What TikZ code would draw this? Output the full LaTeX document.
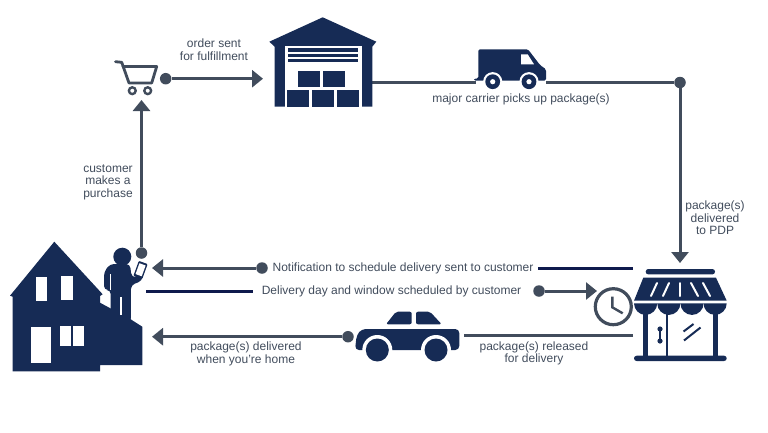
\documentclass[tikz,border=0pt]{standalone}
\usepackage{fontspec}
\setmainfont{Liberation Sans}
\usetikzlibrary{arrows.meta}
\definecolor{navy}{HTML}{162B55}
\definecolor{inkblue}{HTML}{0F1A4D}
\definecolor{slate}{HTML}{414C5C}
\tikzset{
  flow/.style={draw=slate, line width=3pt, -{Triangle[length=11pt,width=17pt]}},
  plainflow/.style={draw=slate, line width=3pt},
  darkline/.style={draw=inkblue, line width=3pt},
  dotnode/.style={circle, fill=slate, inner sep=0pt, minimum size=11.5pt},
  lbl/.style={text=slate, font=\fontsize{12pt}{12.6pt}\selectfont, align=center, inner sep=0pt},
  icon/.style={fill=navy, draw=none},
  hole/.style={fill=white, draw=none}
}

\begin{document}
\begin{tikzpicture}[x=1pt, y=-1pt, node distance=14pt]
        \useasboundingbox (0,0) rectangle (768,432);

        % anchors of the route
        \node (cartdot) [dotnode] at (165.7,78.7) {};
        \coordinate (whousein) at (263,78.7);
        \coordinate (whouseout) at (372,82.5);
        \coordinate (vanin) at (476,82.5);
        \coordinate (vanout) at (546,82.5);
        \node (pdpdot) [dotnode] at (680,82.5) {};
        \coordinate (storein) at (680,263);
        \node (phonedot) [dotnode] at (141.5,253) {};
        \coordinate (cartin) at (141.5,100);
        \node (notifydot) [dotnode] at (262,268) {};
        \coordinate (notifytip) at (152,268);
        \coordinate (notifyA) at (538,268);
        \coordinate (notifyB) at (633,268);
        \coordinate (windowA) at (146,291);
        \coordinate (windowB) at (253,291);
        \node (clockdot) [dotnode] at (539,291) {};
        \coordinate (clockin) at (597,291);
        \coordinate (storeout) at (633,335.5);
        \coordinate (carin) at (464,335.5);
        \node (cardot) [dotnode] at (348,336.7) {};
        \coordinate (hometip) at (152,336.7);

        % connectors
        \draw[flow] (cartdot) -- (whousein);
        \draw[plainflow] (whouseout) -- (vanin);
        \draw[plainflow] (vanout) -- (pdpdot);
        \draw[flow] (pdpdot) -- (storein);
        \draw[flow] (phonedot) -- (cartin);
        \draw[flow] (notifydot) -- (notifytip);
        \draw[darkline] (notifyA) -- (notifyB);
        \draw[darkline] (windowA) -- (windowB);
        \draw[flow] (clockdot) -- (clockin);
        \draw[plainflow] (storeout) -- (carin);
        \draw[flow] (cardot) -- (hometip);

        % labels
        \node (orderlbl) [lbl] at (214,49.5) {order sent\\for fulfillment};
        \node (carrierlbl) [lbl] at (521,99.5) {major carrier picks up package(s)};
        \node (buylbl) [lbl] at (108,182) {customer\\makes a\\purchase};
        \node (pdplbl) [lbl] at (715,218) {package(s)\\delivered\\to PDP};
        \node (notifylbl) [lbl] at (403,268.5) {Notification to schedule delivery sent to customer};
        \node (windowlbl) [lbl] at (391.5,291.5) {Delivery day and window scheduled by customer};
        \node (homelbl) [lbl] at (246,354) {package(s) delivered\\when you're home};
        \node (releaselbl) [lbl] at (534,353.5) {package(s) released\\for delivery};

        % cart
        \draw[slate, line width=2.8pt, line join=round, line cap=round]
          (115.5,61.7) -- (121.7,62.3) -- (129,83) -- (151.7,83) -- (156.7,66.5) -- (122.7,66.5);
        \draw[slate, line width=2.4pt] (132.3,90.7) circle (3.4pt) (147.7,90.7) circle (3.4pt);

        % warehouse
        \fill[icon] (322.7,17.3) -- (376.3,41.7) -- (372.3,46.7) -- (372.3,106.7) -- (274.7,106.7)
          -- (274.7,46.7) -- (269.3,41.7) -- cycle;
        \fill[hole] (285,46) rectangle (361.7,106.7);
        \foreach \ya/\yb in {48.3/51.7, 53.5/56.8, 59.3/62.3}
          \fill[icon] (288.3,\ya) rectangle (358.3,\yb);
        \foreach \xa/\xb in {298.3/320, 323.3/345}
          \fill[icon] (\xa,70.7) rectangle (\xb,87.3);
        \foreach \xa/\xb in {287.3/309.3, 312.3/334, 337/358.7}
          \fill[icon] (\xa,90) rectangle (\xb,106.7);

        % van
        \fill[icon, rounded corners=1.5pt] (478.3,49.3) -- (528,49.3) -- (540,65) -- (546,69.3)
          -- (546,80.7) -- (474,80.7) -- (474,78.5) -- (478.3,78.5) -- cycle;
        \fill[hole] (521,54.3) -- (527.7,54.3) -- (534,64.3) -- (521,64.3) -- cycle;
        \foreach \xc in {492.7,529} {
          \fill[hole] (\xc,81.7) circle (9.6pt);
          \fill[icon] (\xc,81.7) circle (7.4pt);
          \fill[hole] (\xc,81.7) circle (2.6pt);
        }

        % house
        \fill[icon] (54.3,241.7) -- (102.7,294.3) -- (100,296) -- (100,302.7) -- (130.7,319.3)
          -- (142.3,326.7) -- (142.3,365) -- (100,365) -- (100,371.3) -- (12.7,371.3)
          -- (12.7,296.7) -- (10,295.7) -- cycle;
        \fill[hole] (35.7,277.3) rectangle (47.3,301);
        \fill[hole] (60.7,276.3) rectangle (72.7,300);
        \fill[hole] (31.3,326.7) rectangle (50.7,363.3);
        \fill[hole] (59.7,326.3) rectangle (70.7,345.7);
        \fill[hole] (73,326.3) rectangle (83.7,346);

        % person with phone
        \fill[icon] (122.3,256.7) circle (9pt);
        \fill[icon, rounded corners=4pt] (110,264) -- (130,264) -- (131.5,277) -- (137,277.5) -- (143,274) -- (142,281)
          -- (131,285) -- (130.7,325) -- (110.7,325) -- (110.7,290) -- (104,290) -- (104,272) -- cycle;
        \fill[hole] (110.2,274) rectangle (111.2,290);
        \fill[hole] (120,296.7) rectangle (122,315);
        \fill[icon, rotate around={-20:(140.5,270)}, rounded corners=1pt] (135.8,262) rectangle (145.2,278);
        \fill[hole, rotate around={-20:(140.5,270)}] (137.2,264) rectangle (143.8,275.5);

        % store
        \fill[icon, rounded corners=2.6pt] (645.7,269) rectangle (715,274.4);
        \fill[icon] (643.3,277.7) -- (716,277.7) -- (726.7,300.7) -- (634,300.7) -- cycle;
        \foreach \xa/\ya/\xb/\yb in {657/283/651/296, 669/283/663/296, 680.3/283/680.3/296, 691/283/698/296, 703/283/710/296}
          \draw[white, line width=2pt, line cap=round] (\xa,\ya) -- (\xb,\yb);
        \foreach \xa in {634,657.2,680.4,703.5}
          \fill[icon] (\xa,303.3) -- ++(23.2,0) arc[start angle=0, end angle=-180, radius=11.6pt] -- cycle;
        \fill[icon] (642.7,312) rectangle (648,357);
        \fill[icon] (666,312) rectangle (668.3,357);
        \fill[icon] (712.7,312) rectangle (718.3,357);
        \fill[icon, rounded corners=2.6pt] (634,355.7) rectangle (726.7,361);
        \draw[navy, line width=1.6pt] (660,329) -- (660,341);
        \fill[icon] (660,329) circle (2.6pt) (660,341) circle (2.6pt);
        \draw[navy, line width=2pt] (683.5,331.5) -- (693.5,324) (684,340.5) -- (700.5,327.5);

        % clock
        \draw[slate, line width=3.2pt] (613.3,306.7) circle (18pt);
        \draw[slate, line width=2.4pt] (612.3,296.7) -- (612.3,307.3) -- (622.7,313.3);

        % car
        \fill[icon, rounded corners=4pt] (355,350) -- (356.7,335) -- (361.7,329) -- (459.3,329) -- (459.3,350) -- cycle;
        \fill[icon, rounded corners=2pt] (386,324.3) -- (396,311.7) -- (411.7,311.7) -- (411.7,324.3) -- cycle;
        \fill[icon, rounded corners=2pt] (416,324.3) -- (416,311.7) -- (430,311.7) -- (441.7,324.3) -- cycle;
        \foreach \xc in {377.3,436} {
          \fill[hole] (\xc,350) circle (15pt);
          \fill[icon] (\xc,350) circle (11.5pt);
        }
      \end{tikzpicture}
\end{document}
